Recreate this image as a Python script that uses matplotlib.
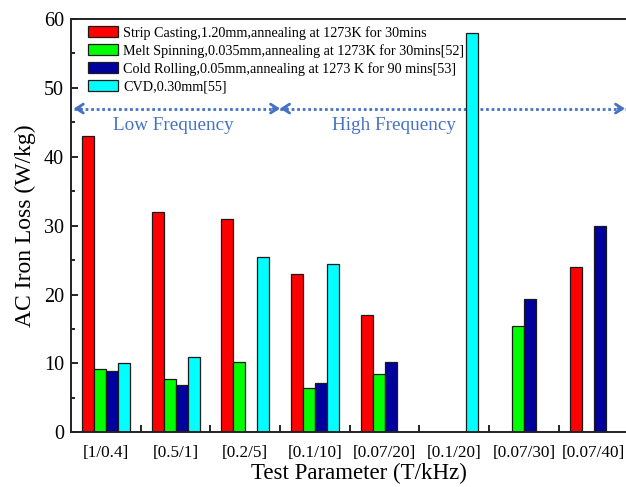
import numpy as np
import matplotlib
matplotlib.use("Agg")
import matplotlib.pyplot as plt
from matplotlib.patches import Patch

plt.rcParams["font.family"] = ["Liberation Serif", "DejaVu Serif"]

# Test conditions (peak induction T / frequency kHz)
categories = ["[1/0.4]", "[0.5/1]", "[0.2/5]", "[0.1/10]", "[0.07/20]",
              "[0.1/20]", "[0.07/30]", "[0.07/40]"]

# AC iron loss (W/kg); nan = no measurement reported
strip_casting = [43.0, 32.0, 31.0, 23.0, 17.0, np.nan, np.nan, 24.0]
melt_spinning = [9.2, 7.8, 10.2, 6.5, 8.5, np.nan, 15.5, np.nan]
cold_rolling = [8.9, 6.8, np.nan, 7.15, 10.25, np.nan, 19.4, 30.0]
cvd = [10.0, 11.0, 25.5, 24.5, np.nan, 58.0, np.nan, np.nan]

series_labels = [
    "Strip Casting,1.20mm,annealing at 1273K for 30mins",
    "Melt Spinning,0.035mm,annealing at 1273K for 30mins[52]",
    "Cold Rolling,0.05mm,annealing at 1273 K for 90 mins[53]",
    "CVD,0.30mm[55]",
]
series_values = [strip_casting, melt_spinning, cold_rolling, cvd]
series_colors = ["#FF0000", "#00FF00", "#00009C", "#00FFFF"]

fig = plt.figure(figsize=(6.26, 4.87), dpi=100)
ax = fig.add_axes([71 / 626, 1 - 432.3 / 487, (628.5 - 71) / 626, (432.3 - 19) / 487])

x = np.arange(len(categories))
bar_w = 0.172
for i, (vals, col) in enumerate(zip(series_values, series_colors)):
    vals = np.asarray(vals, dtype=float)
    mask = ~np.isnan(vals)
    offset = (i - 1.5) * bar_w
    ax.bar(x[mask] + offset, vals[mask], width=bar_w, color=col,
           edgecolor="#1a1a1a", linewidth=0.9, zorder=2)

ax.set_xlim(-0.5, 7.5)
ax.set_ylim(0, 60)

# category labels at group centres, tick marks at group boundaries
ax.set_xticks(x)
ax.set_xticklabels(categories, fontsize=12.3)
ax.tick_params(axis="x", which="major", length=0, pad=9)
ax.set_xticks(np.arange(0.5, 7.5, 1.0), minor=True)
ax.tick_params(axis="x", which="minor", direction="in", length=5, width=1.2)

ax.set_yticks(np.arange(0, 61, 10))
ax.set_yticks(np.arange(5, 60, 10), minor=True)
ax.tick_params(axis="y", which="major", direction="in", length=5, width=1.2,
               labelsize=14.5, pad=5)
ax.tick_params(axis="y", which="minor", direction="in", length=3, width=1.2)

for side in ("left", "bottom", "top", "right"):
    ax.spines[side].set_linewidth(1.4)
    ax.spines[side].set_color("#222222")

ax.set_xlabel("Test Parameter (T/kHz)", fontsize=16.5, labelpad=4)
ax.xaxis.set_label_coords(0.517, -0.075)
ax.set_ylabel("AC Iron Loss (W/kg)", fontsize=17, labelpad=6)

# frequency-range arrows
arrow_col = "#4472C4"
y_arr = 47.0
segments = [(-0.46, 2.5), (2.5, 7.45)]
for x0, x1 in segments:
    ax.plot([x0, x1], [y_arr, y_arr], color=arrow_col, lw=2.0,
            linestyle=(0, (1, 1)), zorder=1)
    for tip, back in ((x0, x0 + 0.1), (x1, x1 - 0.1)):
        ax.annotate("", xy=(tip, y_arr), xytext=(back, y_arr),
                    arrowprops=dict(arrowstyle="->,head_length=0.5,head_width=0.32",
                                    color=arrow_col, lw=2.0, shrinkA=0, shrinkB=0),
                    zorder=1)

ax.text(0.97, 44.6, "Low Frequency", color=arrow_col, fontsize=13.8,
        ha="center", va="center")
ax.text(4.14, 44.6, "High Frequency", color=arrow_col, fontsize=13.8,
        ha="center", va="center")

handles = [Patch(facecolor=c, edgecolor="#1a1a1a", linewidth=0.9) for c in series_colors]
ax.legend(handles, series_labels, loc="upper left",
          bbox_to_anchor=(14 / 557.5, 1 - 4 / 413.3), frameon=False,
          fontsize=10.2, handlelength=2.15, handleheight=0.85, labelspacing=0.3,
          handletextpad=0.33, borderaxespad=0.0, borderpad=0.2)

fig.savefig("out.png", dpi=100)
